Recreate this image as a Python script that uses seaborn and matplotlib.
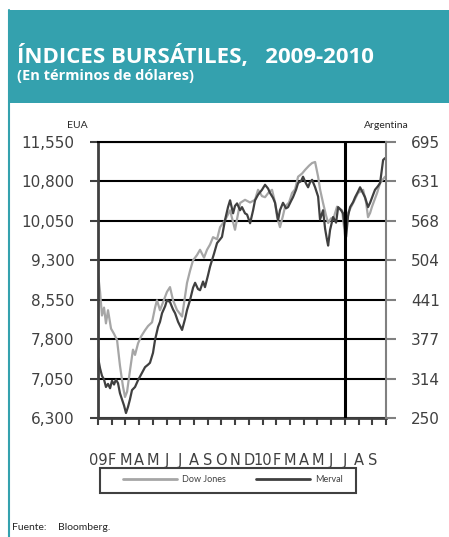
import numpy as np
import pandas as pd
import matplotlib.pyplot as plt
import seaborn as sns
from matplotlib.patches import Rectangle
from matplotlib.lines import Line2D

# posicion en meses desde enero 2009
dj_mes = [0.00, 0.15, 0.29, 0.44, 0.58, 0.73, 0.95, 1.17, 1.39, 1.60, 1.82, 1.97, 2.12, 2.33, 2.55,
          2.70, 2.92, 3.14, 3.43, 3.65, 3.94, 4.16, 4.30, 4.52, 4.74, 5.03, 5.25, 5.47, 5.76, 6.13,
          6.49, 6.71, 6.93, 7.22, 7.44, 7.73, 7.95, 8.17, 8.39, 8.68, 8.90, 9.26, 9.63, 9.99, 10.36,
          10.72, 11.09, 11.45, 11.67, 11.96, 12.18, 12.47, 12.69, 12.91, 13.06, 13.27, 13.49, 13.64,
          13.93, 14.15, 14.37, 14.59, 14.88, 15.10, 15.39, 15.61, 15.83, 16.05, 16.19, 16.41, 16.63,
          16.78, 17.00, 17.14, 17.43, 17.80, 18.02, 18.23, 18.60, 18.96, 19.33, 19.55, 19.69, 19.84,
          19.98, 20.35, 20.57, 20.93]
dj_valor = [9050, 8700, 8250, 8400, 8100, 8350, 8000, 7900, 7780, 7300, 6900, 6700, 6800, 7200, 7600,
            7500, 7720, 7850, 7970, 8050, 8120, 8400, 8540, 8350, 8500, 8700, 8790, 8540, 8355, 8230,
            8870, 9100, 9300, 9400, 9500, 9350, 9500, 9600, 9740, 9700, 9930, 10060, 10250, 9880, 10390,
            10450, 10400, 10450, 10640, 10520, 10500, 10600, 10640, 10400, 10120, 9930, 10150, 10320,
            10400, 10580, 10650, 10890, 10950, 11020, 11100, 11150, 11170, 10890, 10650, 10390, 10150,
            10010, 10100, 10070, 10320, 10250, 9750, 10200, 10390, 10580, 10640, 10400, 10120, 10200,
            10320, 10580, 10770, 10890]

mv_mes = [0.00, 0.15, 0.29, 0.44, 0.58, 0.73, 0.88, 1.02, 1.17, 1.31, 1.46, 1.60, 1.75, 1.90, 2.04,
          2.19, 2.33, 2.48, 2.70, 2.92, 3.14, 3.43, 3.65, 3.79, 4.01, 4.16, 4.38, 4.52, 4.67, 4.89,
          5.03, 5.25, 5.47, 5.62, 5.84, 6.13, 6.35, 6.49, 6.71, 6.93, 7.08, 7.29, 7.44, 7.66, 7.80,
          8.02, 8.17, 8.46, 8.68, 8.90, 9.04, 9.26, 9.48, 9.63, 9.85, 9.99, 10.14, 10.36, 10.50, 10.72,
          10.87, 11.09, 11.31, 11.45, 11.67, 11.96, 12.18, 12.40, 12.54, 12.76, 12.91, 13.13, 13.27,
          13.49, 13.71, 13.86, 14.08, 14.22, 14.44, 14.59, 14.81, 14.95, 15.17, 15.32, 15.46, 15.61,
          15.83, 16.05, 16.19, 16.41, 16.56, 16.70, 16.78, 16.92, 17.14, 17.36, 17.51, 17.72, 17.87,
          18.09, 18.23, 18.38, 18.60, 18.75, 18.96, 19.11, 19.33, 19.47, 19.69, 19.84, 20.06, 20.20,
          20.42, 20.57, 20.79, 20.93]
mv_valor = [348, 330, 318, 312, 300, 305, 298, 310, 304, 312, 306, 290, 280, 270, 258,
            268, 280, 295, 300, 311, 320, 332, 336, 339, 355, 376, 397, 405, 419, 430,
            440, 437, 425, 419, 405, 392, 410, 424, 440, 460, 468, 458, 456, 470, 461,
            480, 494, 515, 532, 538, 542, 569, 590, 601, 580, 592, 596, 585, 590, 580,
            578, 564, 585, 601, 610, 618, 626, 620, 613, 605, 597, 569, 585,
            597, 588, 590, 600, 606, 618, 629, 632, 639, 628, 622, 630, 634,
            622, 607, 570, 585, 555, 537, 528, 553, 574, 565, 590, 585, 580,
            542, 575, 590, 598, 606, 615, 622, 612, 606, 590, 597, 610, 618,
            624, 629, 666, 669]

meses = ["09", "F", "M", "A", "M", "J", "J", "A", "S", "O", "N", "D",
         "10", "F", "M", "A", "M", "J", "J", "A", "S", ""]
eua_ticks = [6300, 7050, 7800, 8550, 9300, 10050, 10800, 11550]
arg_ticks = [250, 314, 377, 441, 504, 568, 631, 695]

teal = '#34A1AE'
gris_claro = '#A6A6A6'
gris_osc = '#404040'

sns.set_style("white")
plt.rcParams['font.family'] = ['DejaVu Sans']

fig = plt.figure(figsize=(4.49, 5.37), dpi=100)

# encabezado
fig.patches.append(Rectangle((8/449, 1-103/537), 1, 93/537, transform=fig.transFigure,
                             facecolor=teal, edgecolor='none', zorder=0))
fig.lines.append(Line2D([8.5/449, 8.5/449], [0, 1-10/537], transform=fig.transFigure,
                        color=teal, lw=1.5))
fig.text(17/449, 1-63/537, "ÍNDICES BURSÁTILES,   2009-2010", color='white', fontsize=16,
         weight='bold', family='Open Sans', va='baseline')
fig.text(17/449, 1-80/537, "(En términos de dólares)", color='white', fontsize=10.5,
         weight='bold', family='Open Sans', va='baseline')

ax = fig.add_axes([98/449, 1-418/537, 288/449, 276/537])
sns.lineplot(x=dj_mes, y=dj_valor, ax=ax, color=gris_claro, linewidth=1.6)
ax.set_xlim(0, 21)
ax.set_ylim(eua_ticks[0], eua_ticks[-1])
ax.set_yticks(eua_ticks, [f"{v:,}" for v in eua_ticks])
ax.set_xticks(range(len(meses)), meses)
ax.set_axisbelow(True)
ax.yaxis.grid(True, color='black', lw=1.5)
ax.tick_params(axis='y', left=True, length=6, width=1.5, color=gris_osc, pad=11,
               labelsize=11, labelcolor=gris_osc)
ax.tick_params(axis='x', bottom=True, length=5, width=1.5, color=gris_osc, pad=20,
               labelsize=10.5, labelcolor=gris_osc)
for s in ['left', 'bottom']:
    ax.spines[s].set_color(gris_osc)
    ax.spines[s].set_linewidth(2)
ax.spines['top'].set_color('black')
ax.spines['top'].set_linewidth(1.5)
ax.spines['right'].set_visible(False)

ax2 = ax.twinx()
sns.lineplot(x=mv_mes, y=mv_valor, ax=ax2, color=gris_osc, linewidth=1.6)
ax2.set_ylim(arg_ticks[0], arg_ticks[-1])
ax2.set_yticks(np.linspace(arg_ticks[0], arg_ticks[-1], len(arg_ticks)), arg_ticks)
ax2.axvline(18, color='black', lw=2.2)
ax2.tick_params(axis='y', right=True, length=7, width=1.5, color='#808080', pad=11,
                labelsize=11, labelcolor=gris_osc)
for s in ['left', 'bottom', 'top']:
    ax2.spines[s].set_visible(False)
ax2.spines['right'].set_color('#808080')
ax2.spines['right'].set_linewidth(1.5)
ax2.set_xlim(0, 21)

fig.text(77/449, 1-125/537, "EUA", fontsize=7.5, family='Lato', ha='center', va='center')
fig.text(386/449, 1-126/537, "Argentina", fontsize=7.5, family='Lato', ha='center', va='center')

# leyenda
fig.patches.append(Rectangle((100/449, 1-493/537), 256/449, 25/537, transform=fig.transFigure,
                             facecolor='white', edgecolor=gris_osc, lw=1.5))
handles = [Line2D([], [], color=gris_claro, lw=2), Line2D([], [], color=gris_osc, lw=2)]
fig.legend(handles, ["Dow Jones", "Merval"], loc='center', bbox_to_anchor=(233/449, 1-480/537),
           ncol=2, frameon=False, handlelength=6, columnspacing=3.3, handletextpad=0.55,
           prop={'family': 'Lato', 'size': 6.5}, labelcolor=gris_osc)

fig.text(12/449, 1-528/537, "Fuente:", fontsize=7.5, family='Lato', va='center')
fig.text(58/449, 1-528/537, "Bloomberg.", fontsize=7.5, family='Lato', va='center')

fig.savefig("out.png", dpi=100)
